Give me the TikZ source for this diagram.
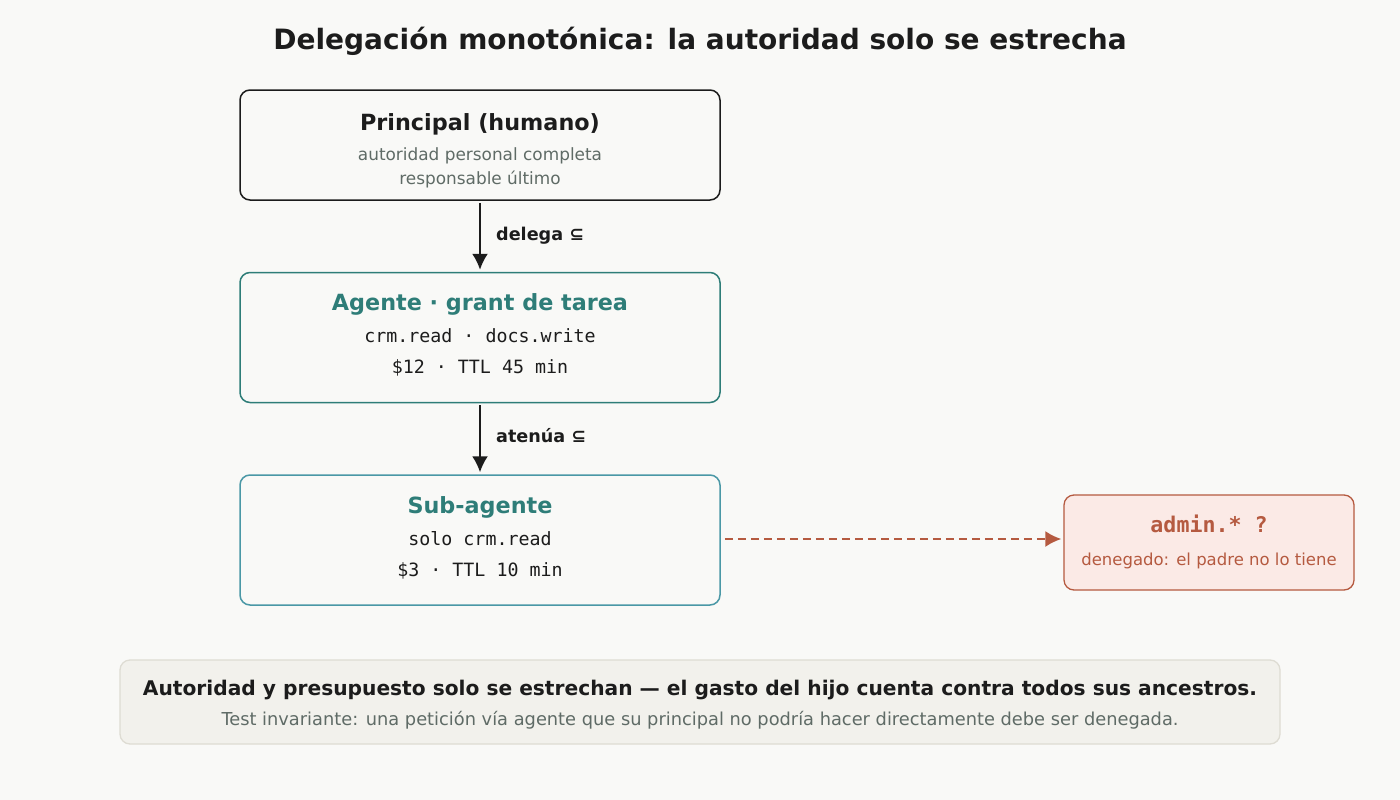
\documentclass[tikz,border=0pt]{standalone}
\usepackage{fontspec}
\setmainfont{DejaVu Sans}
\setmonofont{DejaVu Sans Mono}
\usepackage{tikz}
\usetikzlibrary{arrows.meta,positioning}

\definecolor{paper}{HTML}{F9F9F7}
\definecolor{ink}{HTML}{1C1C1C}
\definecolor{muted}{HTML}{5F6B66}
\definecolor{teal}{HTML}{2E7D78}
\definecolor{subteal}{HTML}{4A98A6}
\definecolor{deny}{HTML}{B55A40}
\definecolor{denyfill}{HTML}{FBEAE6}
\definecolor{notefill}{HTML}{F2F1EC}
\definecolor{noteline}{HTML}{DEDCD3}

\tikzset{
  box/.style={draw,rounded corners=10pt,line width=1.5pt,fill=paper,minimum width=480pt,minimum height=130pt,inner sep=0pt},
  head/.style={anchor=base,inner sep=0pt,font=\fontsize{22.3}{26}\selectfont\bfseries},
  sub/.style={anchor=base,inner sep=0pt,text=muted,font=\fontsize{16.9}{20}\selectfont},
  mono/.style={anchor=base,inner sep=0pt,text=ink,font=\fontsize{18.3}{22}\selectfont\ttfamily},
  flow/.style={draw=ink,line width=2pt,-{Latex[length=16pt,width=16pt]},shorten <=2pt,shorten >=2pt},
  flowlbl/.style={anchor=base west,inner sep=0pt,text=ink,font=\fontsize{17.6}{21}\selectfont\bfseries},
}

\begin{document}
\begin{tikzpicture}[node distance=71pt]
  \useasboundingbox[fill=paper] (0,0) rectangle (1400pt,-800pt);

  % Title
  \node[anchor=base,inner sep=0pt,text=ink,font=\fontsize{28}{32}\selectfont\bfseries] (title) at (700pt,-49pt) {Delegación monotónica: la autoridad solo se estrecha};

  % Chain of boxes
  \node[box,draw=ink,minimum height=110pt] (prin) at (480pt,-145pt) {};
  \node[box,draw=teal,below=of prin] (agent) {};
  \node[box,draw=subteal,below=of agent] (subag) {};
  \node[box,draw=deny,fill=denyfill,line width=1.3pt,minimum width=290pt,minimum height=95pt] (admin) at (1209pt,-542.5pt) {};

  % Box texts
  \node[head,text=ink] (prin-t) at ([yshift=-41.5pt]prin.north) {Principal (humano)};
  \node[sub] (prin-a) at ([yshift=-71pt]prin.north) {autoridad personal completa};
  \node[sub] (prin-b) at ([yshift=-95pt]prin.north) {responsable último};

  \node[head,text=teal] (agent-t) at ([yshift=-39pt]agent.north) {Agente · grant de tarea};
  \node[mono] (agent-a) at ([yshift=-71pt]agent.north) {crm.read · docs.write};
  \node[mono] (agent-b) at ([yshift=-102pt]agent.north) {\$12 · TTL 45 min};

  \node[head,text=teal] (subag-t) at ([yshift=-39pt]subag.north) {Sub-agente};
  \node[mono] (subag-a) at ([yshift=-71pt]subag.north) {solo crm.read};
  \node[mono] (subag-b) at ([yshift=-102pt]subag.north) {\$3 · TTL 10 min};

  \node[anchor=base,inner sep=0pt,text=deny,font=\fontsize{21.6}{25}\selectfont\ttfamily\bfseries] (admin-t) at ([yshift=-38pt]admin.north) {admin.* ?};
  \node[anchor=base,inner sep=0pt,text=deny,font=\fontsize{16.5}{19}\selectfont] (admin-a) at ([yshift=-71pt]admin.north) {denegado: el padre no lo tiene};

  % Arrows
  \draw[flow] (prin) -- (agent);
  \draw[flow] (agent) -- (subag);
  \draw[draw=deny,line width=2pt,dash pattern=on 8pt off 5pt,-{Latex[length=16pt,width=16pt]},shorten <=4pt,shorten >=2pt] ([yshift=1pt]subag.east) -- ([yshift=1pt]subag.east -| admin.west);

  \node[flowlbl] (lbl-a) at (496pt,-240.5pt) {delega ⊆};
  \node[flowlbl] (lbl-b) at (496pt,-442.5pt) {atenúa ⊆};

  % Note
  \node[draw=noteline,fill=notefill,rounded corners=10pt,line width=1.3pt,minimum width=1160pt,minimum height=84pt] (note) at (700pt,-702pt) {};
  \node[anchor=base,inner sep=0pt,text=ink,font=\fontsize{20.2}{24}\selectfont\bfseries] (note-a) at ([yshift=-36.5pt]note.north) {Autoridad y presupuesto solo se estrechan — el gasto del hijo cuenta contra todos sus ancestros.};
  \node[anchor=base,inner sep=0pt,text=muted,font=\fontsize{17.8}{21}\selectfont] (note-b) at ([yshift=-66pt]note.north) {Test invariante: una petición vía agente que su principal no podría hacer directamente debe ser denegada.};
\end{tikzpicture}
\end{document}
